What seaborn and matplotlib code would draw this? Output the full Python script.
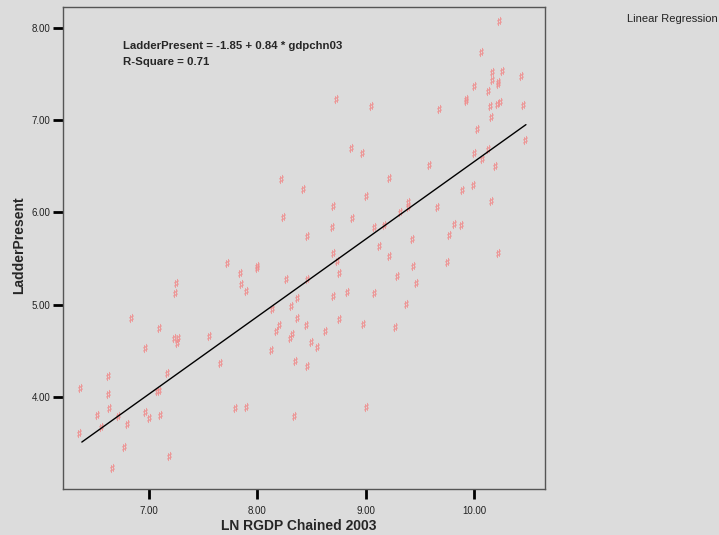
import numpy as np
import pandas as pd
import matplotlib
matplotlib.use("Agg")
import matplotlib.pyplot as plt
import seaborn as sns

# values
gdp = [6.351, 6.360, 6.520, 6.557, 6.621, 6.621, 6.631, 6.658, 6.714, 6.769,
       6.797, 6.834, 6.963, 6.963, 7.000, 7.074, 7.092, 7.092, 7.102, 7.162,
       7.189, 7.235, 7.265, 7.263, 7.249, 7.243, 7.557, 7.658, 7.723, 7.794,
       7.893, 7.837, 7.847, 7.893, 7.994, 7.994, 8.124, 8.140, 8.168, 8.200,
       8.216, 8.237, 8.265, 8.308, 8.318, 8.305, 8.336, 8.348, 8.362, 8.367,
       8.422, 8.450, 8.459, 8.459, 8.459, 8.496, 8.551, 8.625, 8.690, 8.699,
       8.699, 8.699, 8.727, 8.736, 8.757, 8.757, 8.831, 8.868, 8.874, 8.970,
       8.979, 9.004, 9.007, 9.045, 9.073, 9.080, 9.119, 9.173, 9.218, 9.218,
       9.274, 9.293, 9.315, 9.370, 9.394, 9.394, 9.426, 9.440, 9.463, 9.585,
       9.659, 9.675, 9.749, 9.767, 9.816, 9.878, 9.890, 9.927, 9.927, 9.989,
       10.004, 10.001, 10.026, 10.063, 10.075, 10.133, 10.133, 10.149, 10.158, 10.158,
       10.167, 10.167, 10.195, 10.216, 10.223, 10.223, 10.223, 10.235, 10.241, 10.262,
       10.432, 10.453, 10.475]
ladder = [3.605, 4.095, 3.80, 3.67, 4.23, 4.03, 3.88, 3.23, 3.79, 3.46,
          3.71, 4.86, 4.525, 3.84, 3.77, 4.06, 4.06, 4.75, 3.80, 4.26,
          3.36, 4.64, 4.64, 4.58, 5.24, 5.13, 4.655, 4.37, 5.45, 3.88,
          3.89, 5.345, 5.225, 5.145, 5.415, 5.395, 4.51, 4.95, 4.71, 4.775,
          6.366, 5.95, 5.28, 4.99, 4.68, 4.64, 3.79, 4.385, 5.07, 4.855,
          6.257, 4.775, 4.33, 5.28, 5.74, 4.60, 4.536, 4.71, 5.84, 6.07,
          5.56, 5.09, 7.236, 5.47, 5.345, 4.845, 5.134, 6.70, 5.94, 6.65,
          4.79, 3.886, 6.18, 7.15, 5.125, 5.84, 5.636, 5.867, 6.375, 5.525,
          4.753, 5.31, 6.00, 5.01, 6.11, 6.06, 5.714, 5.416, 5.236, 6.51,
          6.06, 7.127, 5.46, 5.753, 5.877, 5.862, 6.242, 7.236, 7.214, 6.293,
          7.373, 6.649, 6.91, 7.736, 6.58, 7.318, 6.685, 7.155, 7.04, 6.127,
          7.525, 7.438, 6.503, 7.177, 7.416, 7.395, 5.558, 8.079, 7.199, 7.536,
          7.48, 7.166, 6.786]

intercept = -1.85
slope = 0.84
r_square = 0.71
line_x = np.array([6.38, 10.48])

x_ticks = [7, 8, 9, 10]
y_ticks = [4, 5, 6, 7, 8]

bg = "#dcdcdc"

sns.set_theme(style="white")
plt.rcParams["font.family"] = ["Liberation Sans", "DejaVu Sans"]

fig = plt.figure(figsize=(7.19, 5.35), dpi=100)
fig.patch.set_facecolor(bg)
ax = fig.add_axes([0.0876, 0.086, 0.6704, 0.901])
ax.set_facecolor(bg)

df = pd.DataFrame({"gdpchn03": gdp, "LadderPresent": ladder})
sns.scatterplot(data=df, x="gdpchn03", y="LadderPresent", ax=ax,
                marker=r"$\sharp$", s=40, color="#ef8f8f",
                edgecolor="#ef8f8f", linewidth=0.3, alpha=0.9)
sns.lineplot(x=line_x, y=intercept + slope * line_x, ax=ax,
             color="black", linewidth=1)

ax.set_xlim(6.206, 10.656)
ax.set_ylim(3.0, 8.23)
ax.set_xticks(x_ticks)
ax.set_yticks(y_ticks)
ax.set_xticklabels([f"{t:.2f}" for t in x_ticks])
ax.set_yticklabels([f"{t:.2f}" for t in y_ticks])
ax.tick_params(axis="both", bottom=True, left=True, direction="out",
               length=7.5, width=2, color="black", labelsize=7,
               labelcolor="#222222")
ax.tick_params(axis="x", pad=5)
ax.tick_params(axis="y", pad=1.5)
for sp in ax.spines.values():
    sp.set_color("#555555")
    sp.set_linewidth(1)

ax.set_xlabel("LN RGDP Chained 2003", fontsize=10, fontweight="bold")
ax.set_ylabel("LadderPresent", fontsize=10, fontweight="bold")
ax.xaxis.set_label_coords(0.49, -0.076)
ax.yaxis.set_label_coords(-0.091, 0.505)
ax.xaxis.label.set_va("center")
ax.yaxis.label.set_va("center")

ax.text(0.125, 0.918, f"LadderPresent = {intercept:.2f} + {slope:.2f} * gdpchn03",
        transform=ax.transAxes, fontsize=8.2, fontweight="bold", va="center")
ax.text(0.125, 0.886, f"R-Square = {r_square:.2f}",
        transform=ax.transAxes, fontsize=8.2, fontweight="bold", va="center")

fig.text(0.998, 0.965, "Linear Regression", fontsize=8, ha="right",
         va="center", color="#222222")

fig.savefig("out.png", dpi=100, facecolor=bg)
